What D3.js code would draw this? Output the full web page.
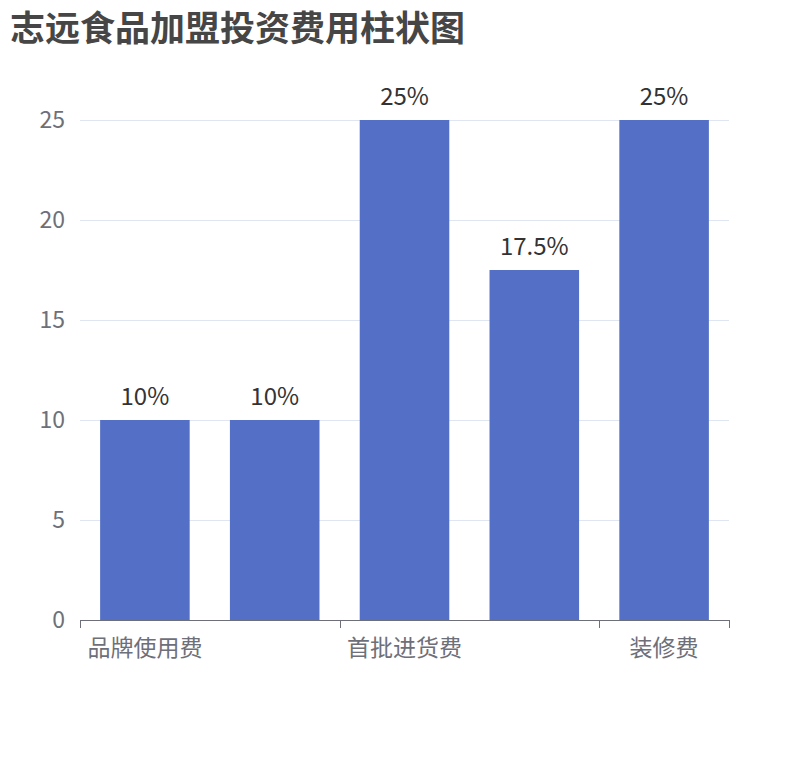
<!DOCTYPE html>
<html>
<head>
<meta charset="utf-8">
<script src="https://cdn.jsdelivr.net/npm/d3@7"></script>
<style>
body { margin: 0; background: #fff; }
</style>
</head>
<body>
<script>
// 费用项目与占比 (%)
const categories = ["品牌使用费", "加盟费", "首批进货费", "保证金", "装修费"];
const values = [10, 10, 25, 17.5, 25];
const yTicks = [0, 5, 10, 15, 20, 25];
const shownLabels = ["品牌使用费", "首批进货费", "装修费"];

const W = 810, H = 760;
const mLeft = 80, mRight = 729, mTop = 120, mBottom = 620;
const font = "'Noto Sans CJK SC', 'Noto Sans', sans-serif";

const svg = d3.select("body").append("svg")
  .attr("width", W)
  .attr("height", H)
  .style("font-family", font);

svg.append("text")
  .attr("x", 10)
  .attr("y", 41)
  .attr("font-size", 35)
  .attr("font-weight", "bold")
  .attr("fill", "#464646")
  .text("志远食品加盟投资费用柱状图");

const x = d3.scaleBand().domain(categories).range([mLeft, mRight]).paddingInner(0).paddingOuter(0);
const y = d3.scaleLinear().domain([0, 25]).range([mBottom, mTop]);

// grid
svg.selectAll("line.grid")
  .data(yTicks.filter(d => d > 0))
  .enter().append("line")
  .attr("class", "grid")
  .attr("x1", mLeft).attr("x2", mRight)
  .attr("y1", d => y(d) + 0.5).attr("y2", d => y(d) + 0.5)
  .attr("stroke", "#e0e6f1");

// y labels
svg.selectAll("text.ytick")
  .data(yTicks)
  .enter().append("text")
  .attr("class", "ytick")
  .attr("x", mLeft - 15)
  .attr("y", d => y(d))
  .attr("dy", "0.35em")
  .attr("text-anchor", "end")
  .attr("font-size", 23)
  .attr("fill", "#6e7079")
  .text(d => d);

// bars
const bw = x.bandwidth() * 0.69;
svg.selectAll("rect.bar")
  .data(values)
  .enter().append("rect")
  .attr("class", "bar")
  .attr("x", (d, i) => x(categories[i]) + (x.bandwidth() - bw) / 2)
  .attr("y", d => y(d))
  .attr("width", bw)
  .attr("height", d => y(0) - y(d))
  .attr("fill", "#5470c6");

// value labels
svg.selectAll("text.val")
  .data(values)
  .enter().append("text")
  .attr("class", "val")
  .attr("x", (d, i) => x(categories[i]) + x.bandwidth() / 2)
  .attr("y", d => y(d) - 15)
  .attr("text-anchor", "middle")
  .attr("font-size", 24)
  .attr("fill", "#333")
  .text(d => d + "%");

// x axis
svg.append("line")
  .attr("x1", mLeft).attr("x2", mRight)
  .attr("y1", mBottom + 0.5).attr("y2", mBottom + 0.5)
  .attr("stroke", "#6e7079");

const tickPos = [0, 2, 4].map(i => x(categories[i])).concat([mRight]);
svg.selectAll("line.xtick")
  .data(tickPos)
  .enter().append("line")
  .attr("class", "xtick")
  .attr("x1", d => Math.round(d) + 0.5).attr("x2", d => Math.round(d) + 0.5)
  .attr("y1", mBottom).attr("y2", mBottom + 8)
  .attr("stroke", "#6e7079");

svg.selectAll("text.xlab")
  .data(shownLabels)
  .enter().append("text")
  .attr("class", "xlab")
  .attr("x", d => x(d) + x.bandwidth() / 2)
  .attr("y", mBottom + 36)
  .attr("text-anchor", "middle")
  .attr("font-size", 23)
  .attr("fill", "#6e7079")
  .text(d => d);
</script>
</body>
</html>
